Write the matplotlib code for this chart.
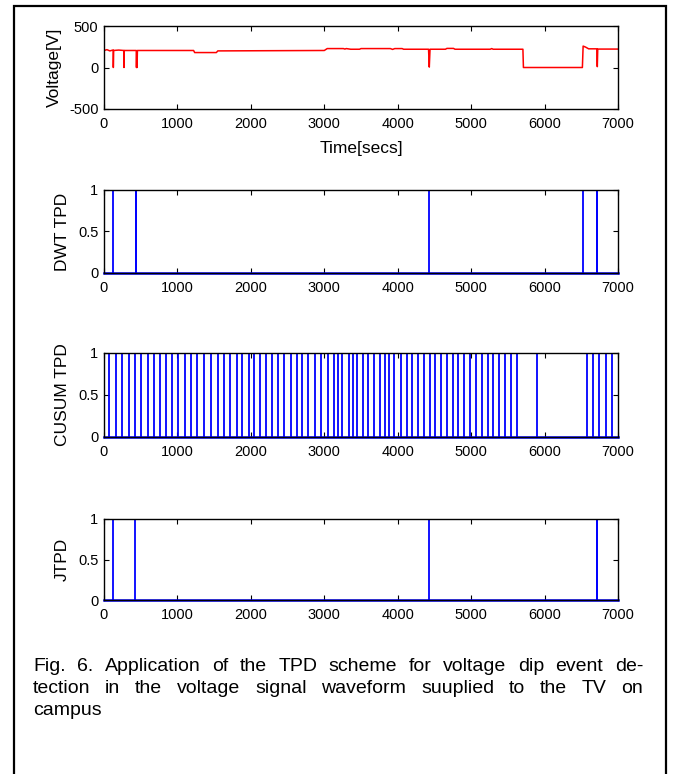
import matplotlib
matplotlib.use('Agg')
import matplotlib.pyplot as plt
from matplotlib.patches import Rectangle

plt.rcParams['font.family'] = ['Liberation Sans', 'DejaVu Sans']
plt.rcParams['axes.unicode_minus'] = False

# voltage trace (time [s], volts)
volt_t = [0, 40, 80, 120, 126, 127, 131, 200, 270, 272, 276, 440, 442, 446, 450, 455,
          1220, 1235, 1530, 1550, 3000, 3040, 3260, 3280, 3300, 3360, 3480, 3500,
          3900, 3930, 3960, 4060, 4080, 4420, 4430, 4440, 4650, 4670, 4760, 4780,
          5260, 5280, 5300, 5705, 5712, 6515, 6525, 6560, 6600, 6712, 6718, 6724, 7000]
volt_v = [205, 215, 200, 210, 210, 0, 205, 210, 205, 0, 205, 205, 0, 195, 0, 205,
          205, 180, 180, 200, 205, 228, 228, 222, 228, 220, 220, 228,
          228, 218, 228, 228, 220, 220, 5, 220, 220, 230, 230, 220,
          220, 228, 220, 220, 0, 0, 258, 245, 225, 225, 10, 222, 222]

# detection instants (time [s]) for each scheme
dwt_events = [127, 436, 442, 4430, 6527, 6712, 6720]
cusum_events = [73, 159, 245, 340, 422, 508, 599, 681, 763, 844, 921, 1002, 1107,
                1184, 1270, 1366, 1457, 1556, 1638, 1711, 1811, 1883, 1974, 2047,
                2120, 2201, 2283, 2365, 2456, 2542, 2624, 2701, 2783, 2873, 2955,
                3046, 3128, 3191, 3245, 3337, 3390, 3449, 3531, 3599, 3677, 3759,
                3827, 3885, 3953, 4040, 4122, 4194, 4280, 4358, 4440, 4512, 4585,
                4667, 4748, 4825, 4903, 4984, 5070, 5152, 5225, 5302, 5380, 5461,
                5539, 5621, 5897, 6574, 6663, 6744, 6831, 6913]
jtpd_events = [127, 422, 4430, 6712, 6720]

xticks = [0, 1000, 2000, 3000, 4000, 5000, 6000, 7000]
volt_yticks = [-500, 0, 500]
tpd_yticks = [0, 0.5, 1]
tpd_yticklabels = ['0', '0.5', '1']
tpd_names = ['DWT TPD', 'CUSUM TPD', 'JTPD']
tpd_events = [dwt_events, cusum_events, jtpd_events]

caption_lines = [
    'Fig. 6. Application of the TPD scheme for voltage dip event de-',
    'tection in the voltage signal waveform suuplied to the TV on',
    'campus',
]

W, H = 673, 774
fig = plt.figure(figsize=(W / 100, H / 100), dpi=100)


def px_axes(left, top, right, bottom):
    return fig.add_axes([left / W, 1 - bottom / H, (right - left) / W, (bottom - top) / H])


def style(ax):
    ax.tick_params(direction='in', top=True, right=True, length=3.5, width=0.8,
                   labelsize=10.5, colors='black')
    ax.tick_params(axis='x', pad=6)
    ax.tick_params(axis='y', pad=4)
    for s in ax.spines.values():
        s.set_linewidth(1.0)
    ax.set_xlim(0, 7000)
    ax.set_xticks(xticks)


# voltage panel
ax0 = px_axes(104, 26, 618, 109)
ax0.plot(volt_t, volt_v, color='red', lw=1.1)
style(ax0)
ax0.set_ylim(-500, 500)
ax0.set_yticks(volt_yticks)
ax0.set_ylabel('Voltage[V]', fontsize=12.5)
ax0.yaxis.set_label_coords((62 - 104) / 514, 0.5)
ax0.set_xlabel('Time[secs]', fontsize=12.5, labelpad=7)

boxes = [(190, 273), (353, 437), (519, 600)]
for (top, bottom), name, events in zip(boxes, tpd_names, tpd_events):
    ax = px_axes(104, top, 618, bottom)
    ax.vlines(events, 0, 1, color='blue', lw=1.3)
    ax.plot([0, 7000], [0, 0], color='blue', lw=1.8, clip_on=False)
    style(ax)
    ax.set_ylim(0, 1)
    ax.set_yticks(tpd_yticks)
    ax.set_yticklabels(tpd_yticklabels)
    ax.set_ylabel(name, fontsize=12.5)
    ax.yaxis.set_label_coords((70 - 104) / 514, 0.5)

# frame around the figure
fig.add_artist(Rectangle((14 / W, -0.01), (666 - 14) / W, 1 - 6 / H + 0.01,
                         transform=fig.transFigure, fill=False, lw=1.6,
                         edgecolor='black', clip_on=False))

# justified caption
renderer = fig.canvas.get_renderer()
x0, x1 = 33, 643
baselines = [671, 693, 715]
cap_size = 14
for i, (line, yb) in enumerate(zip(caption_lines, baselines)):
    words = line.split(' ')
    if i == len(caption_lines) - 1:
        fig.text(x0 / W, 1 - yb / H, line, fontsize=cap_size, va='baseline', ha='left')
        continue
    texts = [fig.text(0, 1 - yb / H, w, fontsize=cap_size, va='baseline', ha='left')
             for w in words]
    widths = [t.get_window_extent(renderer=renderer).width for t in texts]
    gap = (x1 - x0 - sum(widths)) / (len(words) - 1)
    x = x0
    for t, w in zip(texts, widths):
        t.set_x(x / W)
        x += w + gap

fig.savefig('out.png', dpi=100)
